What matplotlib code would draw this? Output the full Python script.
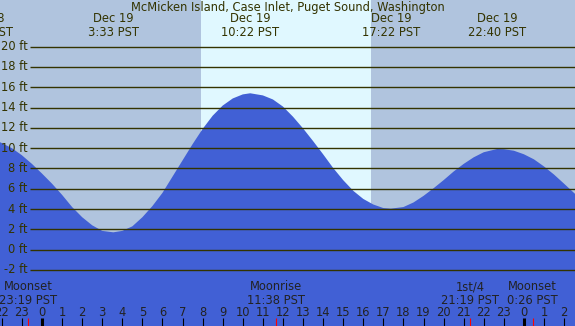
import matplotlib
matplotlib.use("Agg")
import matplotlib.pyplot as plt

# ---- data ----
title = "McMicken Island, Case Inlet, Puget Sound, Washington"

# tide curve (hours from Dec 19 00:00, feet)
tide_hours = [-2.1, -2, -1.5, -1, -0.5, 0, 0.5, 1, 1.5, 2, 2.5, 3, 3.55, 4, 4.5, 5, 5.5,
              6, 6.5, 7, 7.5, 8, 8.5, 9, 9.5, 10, 10.37, 11, 11.5, 12, 12.5, 13, 13.5,
              14, 14.5, 15, 15.5, 16, 16.5, 17, 17.37, 18, 18.5, 19, 19.5, 20, 20.5,
              21, 21.5, 22, 22.67, 23, 23.5, 24, 24.5, 25, 25.5, 26, 26.6]
tide_feet = [10.6, 10.5, 10.0, 9.3, 8.45, 7.5, 6.5, 5.4, 4.2, 3.2, 2.4, 1.85, 1.71, 1.85,
             2.3, 3.2, 4.3, 5.6, 7.2, 8.8, 10.4, 11.9, 13.2, 14.2, 14.9, 15.3, 15.41, 15.2,
             14.8, 14.1, 13.1, 11.95, 10.7, 9.4, 8.05, 6.85, 5.8, 5.0, 4.45, 4.1, 4.04,
             4.2, 4.65, 5.3, 6.05, 6.85, 7.7, 8.45, 9.1, 9.6, 9.92, 9.9, 9.75, 9.4, 8.9,
             8.2, 7.4, 6.5, 5.4]

# high/low labels at the top
extreme_hours = [-2.88, 3.55, 10.37, 17.37, 22.67]
extreme_labels = ["Dec 18\n21:08 PST", "Dec 19\n3:33 PST", "Dec 19\n10:22 PST",
                  "Dec 19\n17:22 PST", "Dec 19\n22:40 PST"]

# moon events at the bottom
moon_hours = [-0.683, 11.633, 21.317, 24.433]
moon_labels = ["Moonset\n23:19 PST", "Moonrise\n11:38 PST", "1st/4\n21:19 PST", "Moonset\n0:26 PST"]

# daylight
sunrise, sunset = 7.92, 16.38

# y grid (ft)
grid_feet = [-2, 0, 2, 4, 6, 8, 10, 12, 14, 16, 18, 20]

# hour ticks
tick_hours = list(range(-2, 27))

# ---- drawing ----
W, H = 575, 326
x_lo, x_hi = -2.092, 26.544
y_lo, y_hi = -7.52, 24.60

bg = "#b0c4de"
day = "#e0f8ff"
water = "#4160d5"
ink = "#333300"
fs = 8.3

fig = plt.figure(figsize=(W / 100, H / 100), dpi=100, facecolor=bg)
ax = fig.add_axes([0, 0, 1, 1])
ax.set_facecolor(bg)
ax.set_xlim(x_lo, x_hi)
ax.set_ylim(y_lo, y_hi)
ax.axis("off")

ax.axvspan(sunrise, sunset, color=day, lw=0, zorder=1)
ax.fill_between(tide_hours, tide_feet, y_lo - 1, color=water, lw=0, zorder=2)

ytr = ax.get_yaxis_transform()
ax.hlines(grid_feet, 29.5 / W, 1, transform=ytr, color=ink, lw=1.0, zorder=3)
for g in grid_feet:
    ax.text(27.5 / W, g, f"{g} ft", transform=ytr, ha="right", va="center",
            fontsize=fs, color=ink, zorder=4)

xtr = ax.get_xaxis_transform()
ax.text(0.5, 1 - 7.5 / H, title, transform=ax.transAxes, ha="center", va="center",
        fontsize=fs, color=ink, zorder=4)
for t, lab in zip(extreme_hours, extreme_labels):
    ax.text(t, 1 - 25.5 / H, lab, transform=xtr, ha="center", va="center",
            fontsize=fs, color=ink, linespacing=1.0, zorder=4)

for t, lab in zip(moon_hours, moon_labels):
    ax.text(t, 1 - 293.5 / H, lab, transform=xtr, ha="center", va="center",
            fontsize=fs, color="#222222", linespacing=1.0, zorder=4)

for h in tick_hours:
    ax.text(h, 1 - 312 / H, str(h % 24), transform=xtr, ha="center", va="center",
            fontsize=fs, color="#222222", zorder=4)

normal = [h for h in tick_hours if h % 24 != 0]
midn = [h for h in tick_hours if h % 24 == 0]
ax.vlines(normal, 0, 8 / H, transform=xtr, color="black", lw=0.8, zorder=4)
ax.vlines(midn, 0, 8 / H, transform=xtr, color="black", lw=2.2, zorder=4)
ax.vlines(moon_hours, 0, 8 / H, transform=xtr, color="red", lw=0.8, zorder=5)

fig.savefig("out.png", dpi=100, facecolor=bg)
